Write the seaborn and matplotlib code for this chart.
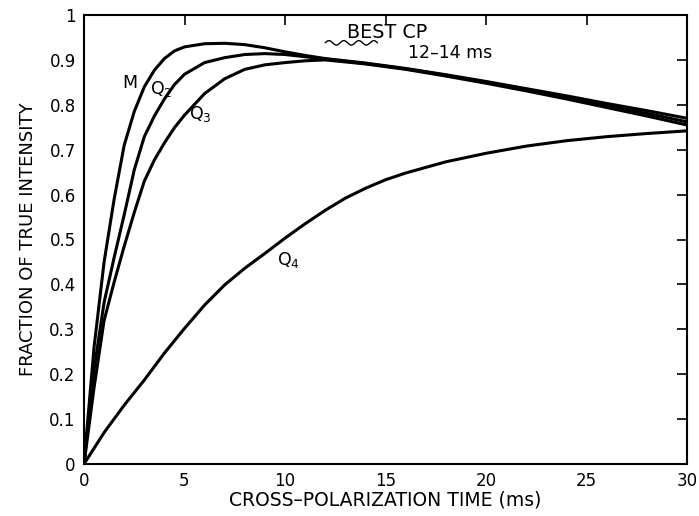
import numpy as np
import pandas as pd
import matplotlib
matplotlib.use("Agg")
import matplotlib.pyplot as plt
import seaborn as sns

# ---- data ----
x_fast = [0, 0.5, 1, 1.5, 2, 2.5, 3, 3.5, 4, 4.5, 5, 6, 7, 8, 9, 10, 11, 12,
          14, 16, 18, 20, 22, 24, 26, 28, 30]
m_vals = [0, 0.26, 0.45, 0.59, 0.71, 0.785, 0.84, 0.877, 0.903, 0.92, 0.929, 0.936,
          0.937, 0.934, 0.927, 0.918, 0.910, 0.903,
          0.893, 0.881, 0.867, 0.852, 0.836, 0.820, 0.803, 0.787, 0.770]
q2_vals = [0, 0.21, 0.36, 0.46, 0.555, 0.655, 0.729, 0.775, 0.813, 0.845, 0.868, 0.894,
           0.905, 0.912, 0.914, 0.912, 0.907, 0.902,
           0.892, 0.880, 0.866, 0.850, 0.834, 0.817, 0.799, 0.781, 0.762]
q3_vals = [0, 0.17, 0.32, 0.405, 0.485, 0.56, 0.63, 0.677, 0.715, 0.749, 0.777, 0.825,
           0.858, 0.879, 0.889, 0.894, 0.898, 0.900,
           0.891, 0.879, 0.864, 0.848, 0.831, 0.813, 0.794, 0.775, 0.755]
x_q4 = [0, 1, 2, 3, 4, 5, 6, 7, 8, 9, 10, 11, 12, 13, 14, 15, 16, 18, 20, 22, 24, 26, 28, 30]
q4_vals = [0, 0.07, 0.131, 0.187, 0.247, 0.302, 0.354, 0.399, 0.436, 0.469, 0.503,
           0.535, 0.565, 0.592, 0.614, 0.633, 0.648, 0.673, 0.692, 0.708, 0.720,
           0.729, 0.736, 0.742]

x_ticks = [0, 5, 10, 15, 20, 25, 30]
y_ticks = [0, 0.1, 0.2, 0.3, 0.4, 0.5, 0.6, 0.7, 0.8, 0.9, 1]
y_tick_labels = ["0", "0.1", "0.2", "0.3", "0.4", "0.5", "0.6", "0.7", "0.8", "0.9", "1"]

df = pd.concat([
    pd.DataFrame({"t": x_fast, "f": m_vals, "s": "M"}),
    pd.DataFrame({"t": x_fast, "f": q2_vals, "s": "Q2"}),
    pd.DataFrame({"t": x_fast, "f": q3_vals, "s": "Q3"}),
    pd.DataFrame({"t": x_q4, "f": q4_vals, "s": "Q4"}),
], ignore_index=True)

sns.set_style("white")
plt.rcParams["font.family"] = ["DejaVu Sans"]
plt.rcParams["mathtext.default"] = "regular"

fig = plt.figure(figsize=(6.99, 5.16), dpi=100)
ax = fig.add_axes([84 / 699, 1 - 464 / 516, (687 - 84) / 699, (464 - 15) / 516])

sns.lineplot(data=df, x="t", y="f", hue="s", units="s", estimator=None,
             palette=["black"] * 4, legend=False, linewidth=2.2, ax=ax, sort=False)

ax.set_xlim(0, 30)
ax.set_ylim(0, 1)
ax.set_xticks(x_ticks)
ax.set_xticklabels([str(v) for v in x_ticks])
ax.set_yticks(y_ticks)
ax.set_yticklabels(y_tick_labels)
ax.tick_params(direction="in", length=7, width=1.2, top=True, right=True,
               labelsize=12, pad=6, colors="black")
for sp in ax.spines.values():
    sp.set_linewidth(1.5)
    sp.set_color("black")

ax.set_xlabel("CROSS\u2013POLARIZATION TIME (ms)", fontsize=13.5, labelpad=0,
              color="black")
ax.set_ylabel("FRACTION OF TRUE INTENSITY", fontsize=13.0, labelpad=9,
              color="black")

lab = dict(fontsize=12.5, ha="center", va="center", color="black")
ax.text(2.29, 0.849, "M", **lab)
ax.text(3.85, 0.835, r"Q$_2$", **lab)
ax.text(5.8, 0.78, r"Q$_3$", **lab)
ax.text(10.15, 0.455, r"Q$_4$", **lab)
ax.text(15.07, 0.962, "BEST CP", fontsize=13.8, ha="center", va="center", color="black")
ax.text(18.2, 0.915, "12\u201314 ms", **lab)

wx = np.linspace(12.0, 14.6, 200)
wy = 0.938 + 0.005 * np.sin((wx - 12.0) / 2.6 * 2 * np.pi * 3.5)
ax.plot(wx, wy, color="black", linewidth=1.0)

fig.savefig("out.png", dpi=100)
